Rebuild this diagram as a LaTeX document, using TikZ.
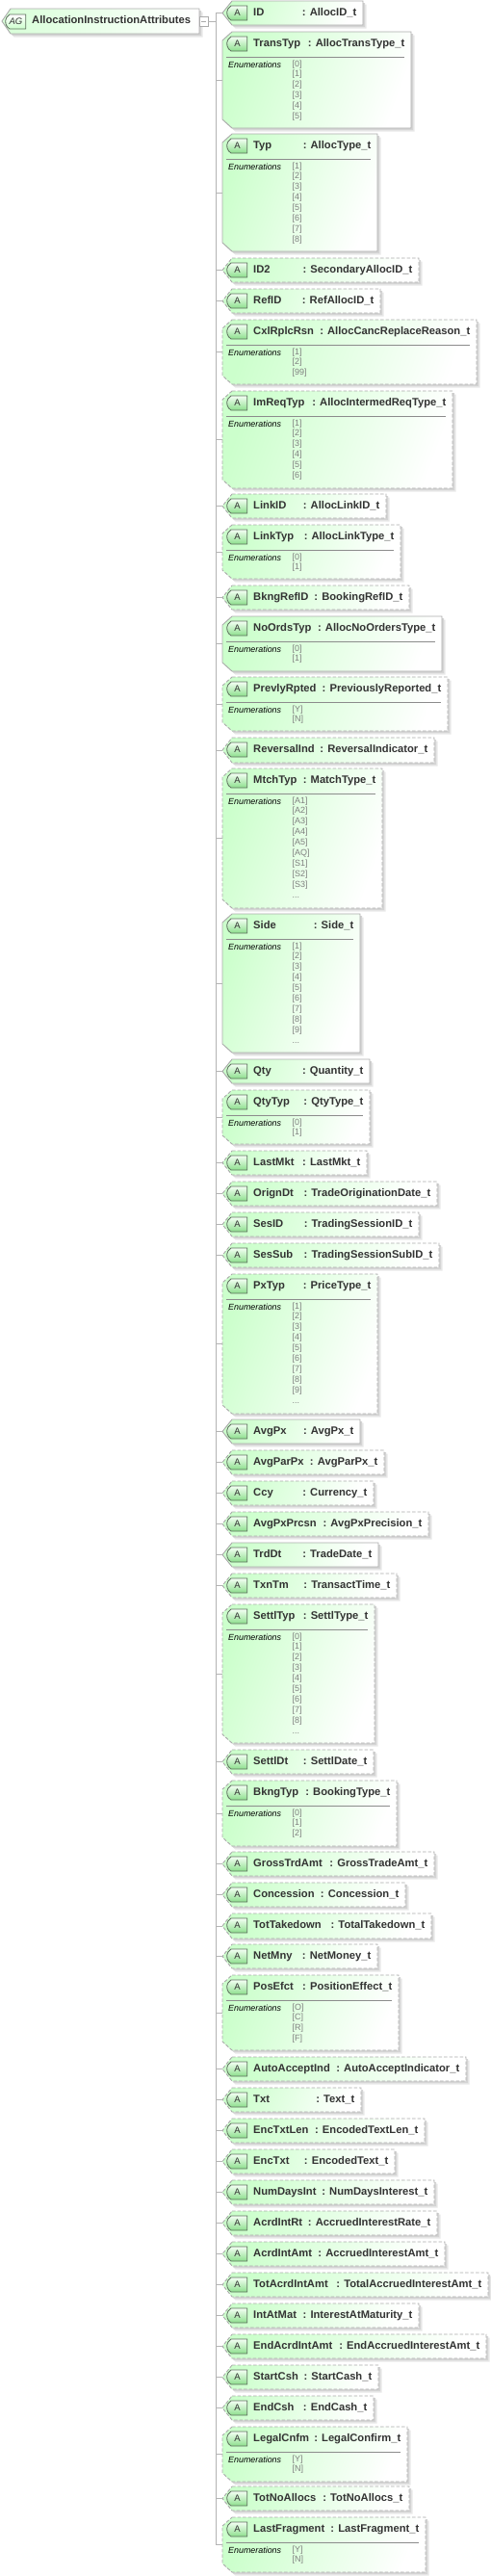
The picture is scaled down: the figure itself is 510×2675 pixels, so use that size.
\documentclass[tikz,border=0pt]{standalone}
\usepackage{fontspec}
\setmainfont{Liberation Sans}
\usetikzlibrary{calc,shapes.misc}
\definecolor{BodyGreen}{HTML}{CCFFCC}
\definecolor{RootGreen}{HTML}{D8FFD8}
\definecolor{Edge}{HTML}{ABABAB}
\definecolor{Wire}{HTML}{B4B4B4}
\definecolor{TagEdge}{HTML}{5F6F5F}
\definecolor{TagTop}{HTML}{F4FFF4}
\definecolor{TagLow}{HTML}{8CDF8C}
\definecolor{Ink}{HTML}{333333}
\definecolor{Muted}{HTML}{808080}
\definecolor{Rule}{HTML}{8C8C8C}
\tikzset{
  holder/.style={inner sep=0pt, outer sep=0pt},
  bodyfill/.style={left color=BodyGreen, right color=white, shading angle=70},
  solidedge/.style={draw=Edge, line width=0.9pt},
  dashedge/.style={draw=Edge, line width=0.9pt, dash pattern=on 3.5pt off 2pt},
  shadowlow/.style={fill=black!9},
  shadowhigh/.style={fill=black!17},
  tagbox/.style={rounded rectangle, rounded rectangle right arc=none, rounded rectangle arc length=120,
    draw=TagEdge, line width=0.8pt, top color=TagTop, bottom color=TagLow,
    minimum width=21pt, minimum height=15pt, inner sep=0pt, text=Ink, font=\fontsize{9.5}{10}\selectfont},
  namelabel/.style={anchor=base west, inner sep=0pt, text=Ink, font=\fontsize{11.2}{13}\selectfont\bfseries},
  typelabel/.style={anchor=base east, inner sep=0pt, text=Ink, font=\fontsize{11.2}{13}\selectfont\bfseries},
  enumhead/.style={anchor=base west, inner sep=0pt, font=\fontsize{8.9}{10}\selectfont\itshape},
  enumitem/.style={anchor=base west, inner sep=0pt, text=Muted, font=\fontsize{9}{10}\selectfont},
  wire/.style={draw=Wire, line width=0.9pt},
}
% #1 id, #2 top, #3 bottom, #4 right, #5 edge, #6 name, #7 type
\newcommand{\attr}[7]{
  \pgfmathsetmacro\boxh{#3-#2}
  \pgfmathsetmacro\boxw{#4-231}
  \pgfmathsetmacro\cut{ifthenelse(\boxh<30,\boxh/2,9)}
  \node[holder, minimum width=\boxw pt, minimum height=\boxh pt] (#1) at ({(231+#4)/2},{(#2+#3)/2}) {};
  \def\outline{(241,#2) -- (#4,#2) -- (#4,#3) -- (241,#3) -- (231,#3-\cut) -- (231,#2+\cut) -- cycle}
  \fill[shadowlow, shift={(3.5,3.5)}] \outline;
  \fill[shadowhigh, shift={(2,2)}] \outline;
  \path[bodyfill] \outline;
  \path[#5] \outline;
  \node[tagbox] (#1-tag) at (246.5,#2+12.5) {A};
  \node[namelabel] (#1-name) at (263,#2+15.5) {#6};
  \node[typelabel] (#1-type) at (#4-6.5,#2+15.5) {: #7};
  \draw[wire] (tee) |- (#1.west);
}
% #1 id, #2 top, #3 right, #4 values
\newcommand{\enums}[4]{
  \draw[Rule, line width=0.8pt] (235,#2+26) -- (#3-7.5,#2+26);
  \node[enumhead] (#1-enum) at (237,#2+37) {Enumerations};
  \foreach \val [count=\n] in {#4} {
    \pgfmathsetmacro\vy{ifthenelse(\n==1,36.5,24.8+11*\n)}
    \node[enumitem] (#1-val\n) at (303.5,#2+\vy) {\val};
  }
}
% the list goes on
\newcommand{\enumdots}[2]{
  \node[enumitem] (#1-more) at (303.5,#2+134.8) {...};
}
\begin{document}
\begin{tikzpicture}[x=1pt, y=-1pt]
  \useasboundingbox (0,0) rectangle (510,2675);
  \coordinate (tee) at (224,22);
  % root group
  \def\rootline{(11,9) -- (207,9) -- (207,35) -- (11,35) -- (2,22) -- cycle}
  \fill[shadowlow, shift={(3.5,3.5)}] \rootline;
  \fill[shadowhigh, shift={(2,2)}] \rootline;
  \path[left color=RootGreen, right color=white] \rootline;
  \path[solidedge] \rootline;
  \node[tagbox, top color=white, bottom color=BodyGreen, font=\fontsize{9.5}{10}\selectfont\itshape] (root-tag) at (16.5,22.5) {AG};
  \node[namelabel] (root-name) at (33,24) {AllocationInstructionAttributes};
  \node[holder, draw=Edge, fill=white, minimum width=9pt, minimum height=10pt] (collapse) at (211.5,22) {};
  \draw[Edge, line width=0.8pt] ($(collapse.west)+(2,0)$) -- ($(collapse.east)+(-2,0)$);
  \draw[wire] (collapse.east) -- (tee);
  % attributes
  \attr{ID}{1}{26}{377}{solidedge}{ID}{AllocID\_t}
  \attr{TransTyp}{33}{133}{427}{solidedge}{TransTyp}{AllocTransType\_t}
  \enums{TransTyp}{33}{427}{[0],[1],[2],[3],[4],[5]}
  \attr{Typ}{139}{261}{392}{solidedge}{Typ}{AllocType\_t}
  \enums{Typ}{139}{392}{[1],[2],[3],[4],[5],[6],[7],[8]}
  \attr{ID2}{268}{293}{435}{dashedge}{ID2}{SecondaryAllocID\_t}
  \attr{RefID}{300}{325}{395}{dashedge}{RefID}{RefAllocID\_t}
  \attr{CxlRplcRsn}{332}{399}{495}{dashedge}{CxlRplcRsn}{AllocCancReplaceReason\_t}
  \enums{CxlRplcRsn}{332}{495}{[1],[2],[99]}
  \attr{ImReqTyp}{406}{507}{470}{dashedge}{ImReqTyp}{AllocIntermedReqType\_t}
  \enums{ImReqTyp}{406}{470}{[1],[2],[3],[4],[5],[6]}
  \attr{LinkID}{513}{538}{401}{dashedge}{LinkID}{AllocLinkID\_t}
  \attr{LinkTyp}{545}{601}{416}{dashedge}{LinkTyp}{AllocLinkType\_t}
  \enums{LinkTyp}{545}{416}{[0],[1]}
  \attr{BkngRefID}{608}{633}{425}{dashedge}{BkngRefID}{BookingRefID\_t}
  \attr{NoOrdsTyp}{640}{697}{459}{solidedge}{NoOrdsTyp}{AllocNoOrdersType\_t}
  \enums{NoOrdsTyp}{640}{459}{[0],[1]}
  \attr{PrevlyRpted}{703}{759}{465}{dashedge}{PrevlyRpted}{PreviouslyReported\_t}
  \enums{PrevlyRpted}{703}{465}{[Y],[N]}
  \attr{ReversalInd}{766}{792}{451}{dashedge}{ReversalInd}{ReversalIndicator\_t}
  \attr{MtchTyp}{798}{943}{397}{dashedge}{MtchTyp}{MatchType\_t}
  \enums{MtchTyp}{798}{397}{[A1],[A2],[A3],[A4],[A5],[AQ],[S1],[S2],[S3]}
  \enumdots{MtchTyp}{798}
  \attr{Side}{949}{1093}{374}{solidedge}{Side}{Side\_t}
  \enums{Side}{949}{374}{[1],[2],[3],[4],[5],[6],[7],[8],[9]}
  \enumdots{Side}{949}
  \attr{Qty}{1100}{1125}{384}{solidedge}{Qty}{Quantity\_t}
  \attr{QtyTyp}{1132}{1188}{384}{dashedge}{QtyTyp}{QtyType\_t}
  \enums{QtyTyp}{1132}{384}{[0],[1]}
  \attr{LastMkt}{1195}{1220}{381}{dashedge}{LastMkt}{LastMkt\_t}
  \attr{OrignDt}{1227}{1252}{454}{dashedge}{OrignDt}{TradeOriginationDate\_t}
  \attr{SesID}{1259}{1284}{435}{dashedge}{SesID}{TradingSessionID\_t}
  \attr{SesSub}{1291}{1316}{456}{dashedge}{SesSub}{TradingSessionSubID\_t}
  \attr{PxTyp}{1323}{1468}{392}{dashedge}{PxTyp}{PriceType\_t}
  \enums{PxTyp}{1323}{392}{[1],[2],[3],[4],[5],[6],[7],[8],[9]}
  \enumdots{PxTyp}{1323}
  \attr{AvgPx}{1474}{1499}{374}{solidedge}{AvgPx}{AvgPx\_t}
  \attr{AvgParPx}{1506}{1531}{399}{dashedge}{AvgParPx}{AvgParPx\_t}
  \attr{Ccy}{1538}{1563}{388}{dashedge}{Ccy}{Currency\_t}
  \attr{AvgPxPrcsn}{1570}{1595}{445}{dashedge}{AvgPxPrcsn}{AvgPxPrecision\_t}
  \attr{TrdDt}{1602}{1627}{393}{solidedge}{TrdDt}{TradeDate\_t}
  \attr{TxnTm}{1634}{1659}{412}{dashedge}{TxnTm}{TransactTime\_t}
  \attr{SettlTyp}{1666}{1810}{389}{dashedge}{SettlTyp}{SettlType\_t}
  \enums{SettlTyp}{1666}{389}{[0],[1],[2],[3],[4],[5],[6],[7],[8]}
  \enumdots{SettlTyp}{1666}
  \attr{SettlDt}{1817}{1842}{388}{dashedge}{SettlDt}{SettlDate\_t}
  \attr{BkngTyp}{1849}{1917}{412}{dashedge}{BkngTyp}{BookingType\_t}
  \enums{BkngTyp}{1849}{412}{[0],[1],[2]}
  \attr{GrossTrdAmt}{1923}{1948}{451}{dashedge}{GrossTrdAmt}{GrossTradeAmt\_t}
  \attr{Concession}{1955}{1980}{421}{dashedge}{Concession}{Concession\_t}
  \attr{TotTakedown}{1987}{2013}{448}{dashedge}{TotTakedown}{TotalTakedown\_t}
  \attr{NetMny}{2019}{2044}{392}{dashedge}{NetMny}{NetMoney\_t}
  \attr{PosEfct}{2051}{2129}{414}{dashedge}{PosEfct}{PositionEffect\_t}
  \enums{PosEfct}{2051}{414}{[O],[C],[R],[F]}
  \attr{AutoAcceptInd}{2136}{2161}{484}{dashedge}{AutoAcceptInd}{AutoAcceptIndicator\_t}
  \attr{Txt}{2168}{2193}{375}{dashedge}{Txt}{Text\_t}
  \attr{EncTxtLen}{2200}{2225}{441}{dashedge}{EncTxtLen}{EncodedTextLen\_t}
  \attr{EncTxt}{2232}{2257}{410}{dashedge}{EncTxt}{EncodedText\_t}
  \attr{NumDaysInt}{2264}{2289}{451}{dashedge}{NumDaysInt}{NumDaysInterest\_t}
  \attr{AcrdIntRt}{2296}{2321}{454}{dashedge}{AcrdIntRt}{AccruedInterestRate\_t}
  \attr{AcrdIntAmt}{2328}{2353}{462}{dashedge}{AcrdIntAmt}{AccruedInterestAmt\_t}
  \attr{TotAcrdIntAmt}{2360}{2385}{507}{dashedge}{TotAcrdIntAmt}{TotalAccruedInterestAmt\_t}
  \attr{IntAtMat}{2392}{2417}{435}{dashedge}{IntAtMat}{InterestAtMaturity\_t}
  \attr{EndAcrdIntAmt}{2424}{2449}{505}{dashedge}{EndAcrdIntAmt}{EndAccruedInterestAmt\_t}
  \attr{StartCsh}{2456}{2481}{393}{dashedge}{StartCsh}{StartCash\_t}
  \attr{EndCsh}{2488}{2513}{388}{dashedge}{EndCsh}{EndCash\_t}
  \attr{LegalCnfm}{2520}{2577}{423}{dashedge}{LegalCnfm}{LegalConfirm\_t}
  \enums{LegalCnfm}{2520}{423}{[Y],[N]}
  \attr{TotNoAllocs}{2582}{2607}{425}{dashedge}{TotNoAllocs}{TotNoAllocs\_t}
  \attr{LastFragment}{2614}{2671}{442}{dashedge}{LastFragment}{LastFragment\_t}
  \enums{LastFragment}{2614}{442}{[Y],[N]}
\end{tikzpicture}
\end{document}
